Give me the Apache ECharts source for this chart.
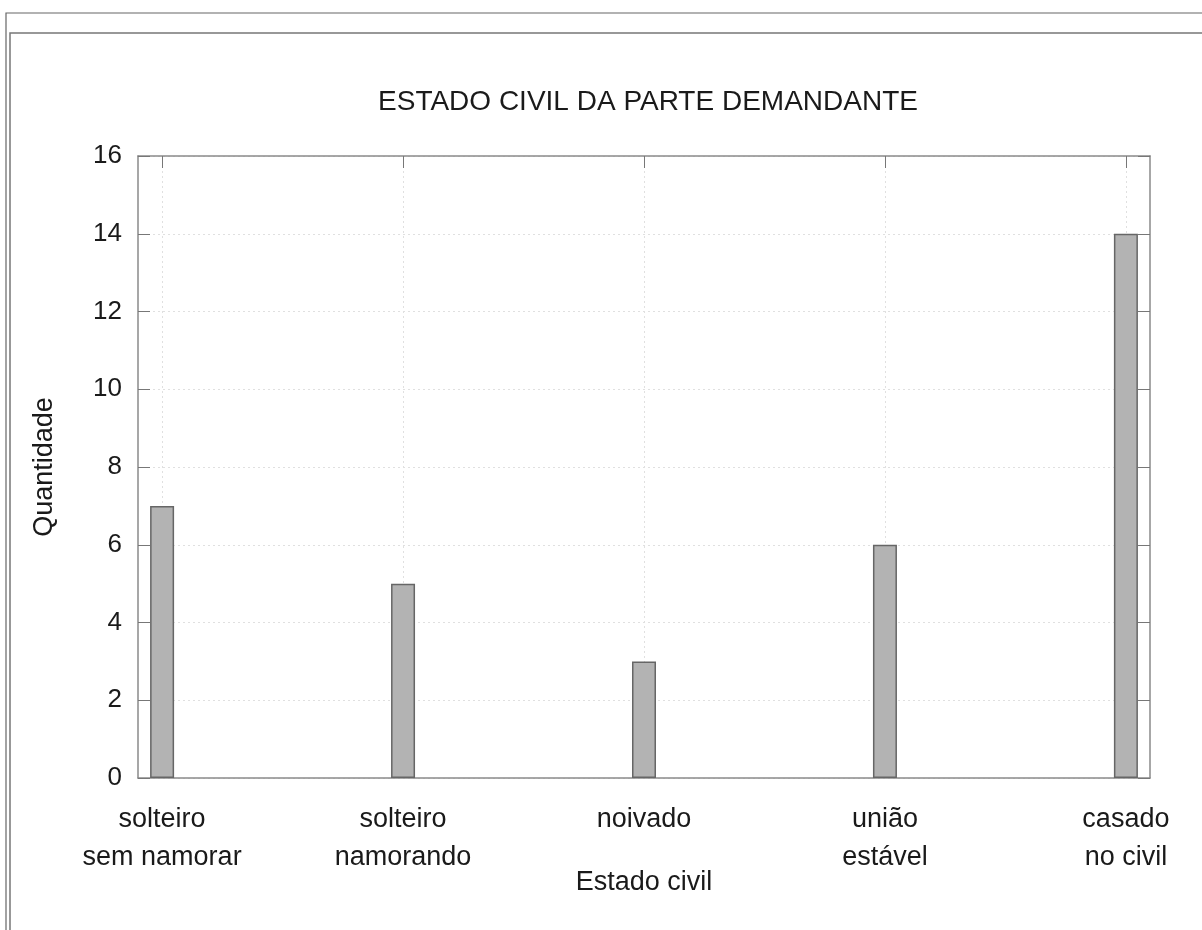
<!DOCTYPE html>
<html>
<head>
<meta charset="utf-8">
<script src="https://cdn.jsdelivr.net/npm/echarts@6/dist/echarts.min.js"></script>
<style>html,body{margin:0;padding:0;background:#fff}#c{width:1202px;height:930px}</style>
</head>
<body>
<div id="c"></div>
<script>
const categories = ['solteiro\nsem namorar', 'solteiro\nnamorando', 'noivado', 'união\nestável', 'casado\nno civil'];
const positions = [0, 1, 2, 3, 4];
const quantities = [7, 5, 3, 6, 14];
const yTicks = [0, 2, 4, 6, 8, 10, 12, 14, 16];
const titleText = 'ESTADO CIVIL DA PARTE DEMANDANTE';
const xName = 'Estado civil';
const yName = 'Quantidade';

const FONT = '"Liberation Sans", Arial, sans-serif';
const chart = echarts.init(document.getElementById('c'), null, {renderer: 'canvas'});
const axisLineStyle = {color: '#8a8a8a', width: 1.5};
const tickStyle = {color: '#777', width: 1};
const option = {
  backgroundColor: '#fff',
  animation: false,
  title: {
    text: titleText, left: 643, top: 83, textAlign: 'center',
    textStyle: {fontFamily: FONT, fontSize: 28, fontWeight: 'normal', color: '#1a1a1a'}
  },
  graphic: [
    {type: 'polyline', shape: {points: [[1202, 13], [6, 13], [6, 930]]}, style: {stroke: '#666', lineWidth: 1.2, fill: null}},
    {type: 'polyline', shape: {points: [[1202, 33], [10, 33], [10, 930]]}, style: {stroke: '#777', lineWidth: 1.5, fill: null}}
  ],
  grid: {left: 138, right: 52, top: 156, bottom: 152, containLabel: false},
  xAxis: [{
    type: 'value', min: -0.1, max: 4.1, position: 'bottom',
    name: xName, nameLocation: 'middle', nameGap: 91, nameMoveOverlap: false,
    nameTextStyle: {fontFamily: FONT, fontSize: 27, color: '#1a1a1a'},
    axisLine: {show: true, onZero: false, lineStyle: axisLineStyle},
    axisTick: {show: true, inside: true, length: 12, customValues: positions, lineStyle: tickStyle},
    axisLabel: {
      customValues: positions, margin: 23, fontFamily: FONT, fontSize: 27, color: '#1a1a1a', lineHeight: 38,
      formatter: v => categories[Math.round(v)] || ''
    },
    splitLine: {show: true, customValues: positions, lineStyle: {color: '#e0e0e0', type: [2, 3], width: 1}}
  }, {
    type: 'value', min: -0.1, max: 4.1, position: 'top',
    axisLine: {show: true, onZero: false, lineStyle: axisLineStyle},
    axisTick: {show: true, inside: true, length: 12, customValues: positions, lineStyle: tickStyle},
    axisLabel: {show: false},
    splitLine: {show: false}
  }],
  yAxis: [{
    type: 'value', min: 0, max: 16, interval: 2, position: 'left',
    name: yName, nameLocation: 'middle', nameGap: 80, nameRotate: 90, nameMoveOverlap: false,
    nameTextStyle: {fontFamily: FONT, fontSize: 27, color: '#1a1a1a'},
    axisLine: {show: true, onZero: false, lineStyle: axisLineStyle},
    axisTick: {show: true, inside: true, length: 12, lineStyle: tickStyle},
    axisLabel: {margin: 16, fontFamily: FONT, fontSize: 26, color: '#1a1a1a',
      formatter: v => yTicks.includes(v) ? String(v) : ''},
    splitLine: {show: true, lineStyle: {color: '#e0e0e0', type: [2, 3], width: 1}}
  }, {
    type: 'value', min: 0, max: 16, interval: 2, position: 'right',
    axisLine: {show: true, onZero: false, lineStyle: axisLineStyle},
    axisTick: {show: true, inside: true, length: 12, lineStyle: tickStyle},
    axisLabel: {show: false},
    splitLine: {show: false}
  }],
  series: [{
    type: 'bar', xAxisIndex: 0, yAxisIndex: 0,
    barWidth: 24,
    data: positions.map((p, i) => [p, quantities[i]]),
    itemStyle: {color: '#b3b3b3', borderColor: '#666', borderWidth: 1.5},
    z: 3
  }]
};
chart.setOption(option);
</script>
</body>
</html>
